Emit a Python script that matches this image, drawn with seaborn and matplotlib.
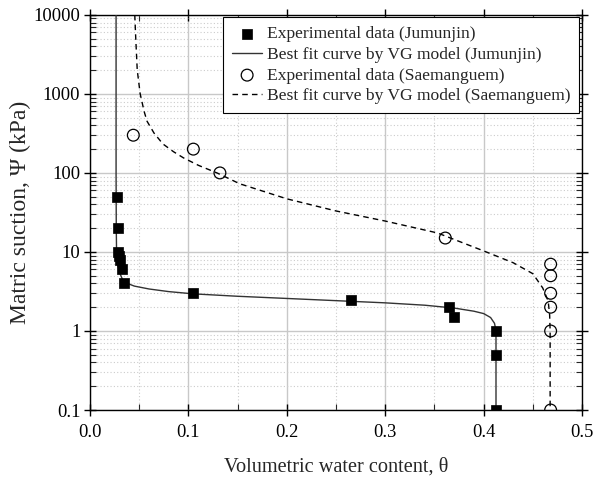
import matplotlib
matplotlib.use("Agg")
import matplotlib.pyplot as plt
import matplotlib.ticker as mticker
import seaborn as sns
import pandas as pd

# Experimental data
jum_theta = [0.027, 0.028, 0.028, 0.029, 0.030, 0.033, 0.035, 0.105, 0.265, 0.365, 0.370, 0.413, 0.413, 0.413]
jum_psi = [50, 20, 10, 9, 8, 6, 4, 3, 2.5, 2, 1.5, 1, 0.5, 0.1]

sae_theta = [0.044, 0.105, 0.132, 0.361, 0.468, 0.468, 0.468, 0.468, 0.468, 0.468]
sae_psi = [300, 200, 100, 15, 7, 5, 3, 2, 1, 0.1]

# Best fit curves
jum_fit_theta = [0.0265, 0.0265, 0.0267, 0.0270, 0.0280, 0.0300, 0.0330, 0.0380, 0.0450, 0.0600, 0.0800,
                 0.105, 0.150, 0.200, 0.250, 0.300, 0.340, 0.370, 0.390, 0.400, 0.407, 0.411, 0.4125, 0.4125]
jum_fit_psi = [10000, 100, 20, 10, 7, 5.5, 4.5, 4.0, 3.7, 3.4, 3.15,
               2.95, 2.75, 2.58, 2.42, 2.27, 2.12, 1.95, 1.78, 1.66, 1.48, 1.25, 1.0, 0.1]

sae_fit_theta = [0.0455, 0.0465, 0.0480, 0.0510, 0.0550, 0.0580, 0.0650, 0.0740, 0.0850, 0.0950, 0.110,
                 0.129, 0.152, 0.200, 0.250, 0.300, 0.353, 0.400, 0.430, 0.450, 0.460, 0.4655, 0.467,
                 0.4675, 0.4675]
sae_fit_psi = [10000, 5000, 2000, 1000, 600, 450, 320, 233, 185, 155, 125,
               100, 73, 47, 33, 24.6, 17.4, 10.3, 7.3, 5.3, 3.5, 2.4, 1.6, 1.0, 0.1]

x_ticks = [0.0, 0.1, 0.2, 0.3, 0.4, 0.5]
y_ticks = [0.1, 1, 10, 100, 1000, 10000]
y_tick_labels = ["0.1", "1", "10", "100", "1000", "10000"]

sns.set_style("ticks")
plt.rcParams["font.family"] = ["Liberation Serif", "DejaVu Serif"]
plt.rcParams["mathtext.fontset"] = "stix"

fig = plt.figure(figsize=(5.94, 4.79), dpi=100)
ax = fig.add_axes([0.1515, 0.144, 0.8285, 0.825])

jum_df = pd.DataFrame({"theta": jum_theta, "psi": jum_psi})
sae_df = pd.DataFrame({"theta": sae_theta, "psi": sae_psi})
jf = pd.DataFrame({"theta": jum_fit_theta, "psi": jum_fit_psi})
sf = pd.DataFrame({"theta": sae_fit_theta, "psi": sae_fit_psi})

ax.set_yscale("log")

sns.lineplot(data=jf, x="theta", y="psi", sort=False, estimator=None, ax=ax,
             color="#333333", linewidth=1.0, label="Best fit curve by VG model (Jumunjin)", zorder=3)
sns.lineplot(data=sf, x="theta", y="psi", sort=False, estimator=None, ax=ax,
             color="black", linewidth=1.0, linestyle=(0, (4, 3)),
             label="Best fit curve by VG model (Saemanguem)", zorder=3)
sns.scatterplot(data=jum_df, x="theta", y="psi", ax=ax, marker="s", s=55, color="black",
                edgecolor="black", linewidth=0.5, label="Experimental data (Jumunjin)", zorder=4)
sns.scatterplot(data=sae_df, x="theta", y="psi", ax=ax, marker="o", s=72, facecolor="none",
                edgecolor="black", linewidth=0.9, label="Experimental data (Saemanguem)", zorder=4)

ax.set_xlim(0.0, 0.5)
ax.set_ylim(0.1, 10000)
ax.set_xticks(x_ticks)
ax.xaxis.set_major_formatter(mticker.FormatStrFormatter("%.1f"))
ax.xaxis.set_minor_locator(mticker.MultipleLocator(0.05))
ax.yaxis.set_major_locator(mticker.FixedLocator(y_ticks))
ax.yaxis.set_major_formatter(mticker.FixedFormatter(y_tick_labels))
ax.yaxis.set_minor_locator(mticker.LogLocator(base=10, subs=range(2, 10), numticks=20))
ax.yaxis.set_minor_formatter(mticker.NullFormatter())

ax.grid(which="major", color="#c8c8c8", linewidth=1.0, linestyle="-", zorder=0)
ax.grid(which="minor", color="#cccccc", linewidth=0.8, linestyle=(0, (1, 2)), zorder=0)
ax.set_axisbelow(True)

for s in ax.spines.values():
    s.set_color("black")
    s.set_linewidth(1.0)

ax.tick_params(which="major", direction="inout", length=8, width=1.0, top=True, right=True,
               labelsize=13.3, colors="black")
ax.tick_params(axis="x", which="major", pad=6)
ax.tick_params(axis="y", which="major", pad=3)
ax.tick_params(which="minor", direction="in", length=4, width=0.8, top=True, right=True)

ax.set_xlabel("Volumetric water content, θ", fontsize=14.6, labelpad=12)
ax.set_ylabel("Matric suction, Ψ (kPa)", fontsize=17, labelpad=2)

handles, labels = ax.get_legend_handles_labels()
order = ["Experimental data (Jumunjin)", "Best fit curve by VG model (Jumunjin)",
         "Experimental data (Saemanguem)", "Best fit curve by VG model (Saemanguem)"]
hmap = dict(zip(labels, handles))
leg = ax.legend([hmap[o] for o in order], order, loc="upper right", fontsize=12.6,
                frameon=True, fancybox=False, edgecolor="black", framealpha=1,
                borderaxespad=0.15, handlelength=1.7, labelspacing=0.25, borderpad=0.5,
                handletextpad=0.3)
leg.get_frame().set_linewidth(0.8)

fig.savefig("out.png", dpi=100)
